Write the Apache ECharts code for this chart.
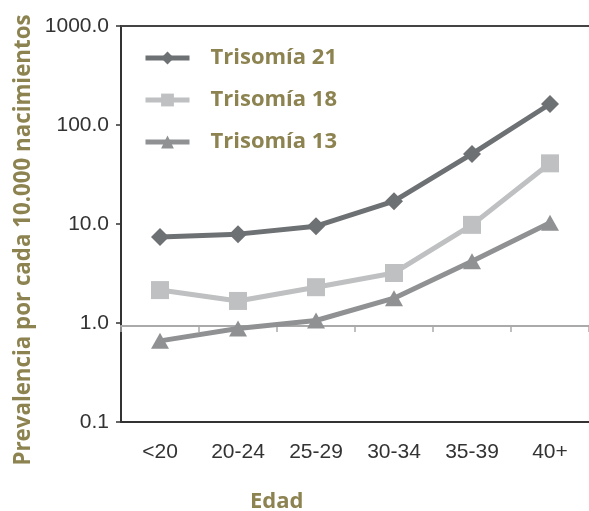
<!DOCTYPE html>
<html><head><meta charset="utf-8">
<script src="https://cdn.jsdelivr.net/npm/echarts@6/dist/echarts.min.js"></script>
<style>html,body{margin:0;padding:0;background:#fff}#c{width:589px;height:511px}</style>
</head><body><div id="c"></div>
<script>
var categories = ['<20', '20-24', '25-29', '30-34', '35-39', '40+'];
var trisomia21 = [7.4, 7.9, 9.5, 17, 51, 163];
var trisomia18 = [2.15, 1.67, 2.3, 3.2, 9.8, 41];
var trisomia13 = [0.66, 0.88, 1.06, 1.78, 4.2, 10.3];
var seriesNames = ['Trisomía 21', 'Trisomía 18', 'Trisomía 13'];
var yTitle = 'Prevalencia por cada 10.000 nacimientos';
var xTitle = 'Edad';

var olive = '#8c8350';
var chart = echarts.init(document.getElementById('c'), null, {renderer: 'canvas'});
chart.setOption({
  animation: false,
  grid: {left: 121, right: -14, top: 26, bottom: 89},
  legend: {
    orient: 'vertical', left: 143, top: 47, itemGap: 20, padding: 0,
    itemWidth: 44, itemHeight: 16,
    lineStyle: {width: 5},
    textStyle: {color: olive, fontSize: 22, lineHeight: 22, fontWeight: 'bold', fontFamily: 'Open Sans', padding: [0, 0, 0, 16]},
    data: seriesNames
  },
  xAxis: [
    {type: 'category', data: categories, position: 'bottom', boundaryGap: true,
     axisLine: {lineStyle: {color: '#333', width: 2}}, axisTick: {show: false},
     axisLabel: {color: '#333', fontSize: 21, fontFamily: 'Liberation Sans', margin: 20}},
    {type: 'category', data: categories, position: 'top', boundaryGap: true,
     axisLine: {lineStyle: {color: '#444', width: 2}}, axisTick: {show: false}, axisLabel: {show: false}},
    {type: 'category', data: categories, position: 'bottom', offset: -96, boundaryGap: true,
     axisLine: {lineStyle: {color: '#aaa', width: 2}},
     axisTick: {show: true, inside: false, length: 6, lineStyle: {color: '#aaa', width: 1.5}},
     axisLabel: {show: false}}
  ],
  yAxis: {
    type: 'log', logBase: 10, min: 0.1, max: 1000,
    axisLine: {show: true, lineStyle: {color: '#333', width: 2}},
    axisTick: {show: true, length: 5, lineStyle: {color: '#333', width: 1.5}},
    splitLine: {show: false},
    axisLabel: {color: '#333', fontSize: 21, fontFamily: 'Liberation Sans', margin: 12,
      formatter: function (v) { return Number(v).toFixed(1); }}
  },
  graphic: [
    {type: 'text', left: 250, top: 491, style: {text: xTitle, fill: olive, font: 'bold 22px "Open Sans"'}},
    {type: 'text', x: 24, y: 240, rotation: Math.PI / 2,
     style: {text: yTitle, fill: olive, font: 'bold 22.3px "Open Sans"', align: 'center', verticalAlign: 'middle'}}
  ],
  series: [
    {name: seriesNames[0], type: 'line', data: trisomia21, symbol: 'diamond', symbolSize: 18,
     lineStyle: {width: 5, color: '#6e7174'}, itemStyle: {color: '#6e7174'}},
    {name: seriesNames[1], type: 'line', data: trisomia18, symbol: 'rect', symbolSize: 18,
     lineStyle: {width: 5, color: '#bec0c1'}, itemStyle: {color: '#bec0c1'}},
    {name: seriesNames[2], type: 'line', data: trisomia13, symbol: 'triangle', symbolSize: [18, 16],
     lineStyle: {width: 5, color: '#8f9193'}, itemStyle: {color: '#8f9193'}}
  ]
});
</script></body></html>
